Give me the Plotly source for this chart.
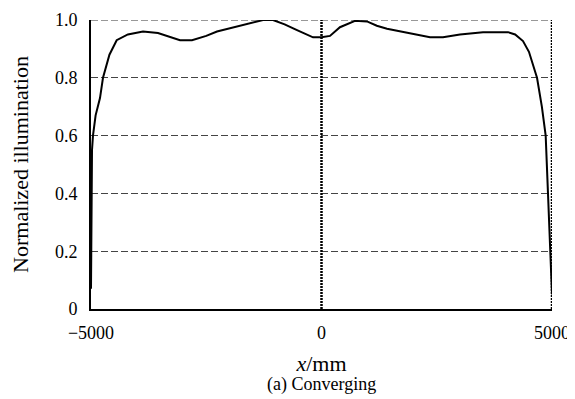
import plotly.graph_objects as go

x_mm = [-5000, -4990, -4978, -4957, -4900, -4805, -4740, -4600, -4443, -4200, -3872, -3547,
        -3200, -3069, -2809, -2500, -2267, -1920, -1551, -1269, -1052, -800, -531, -300,
        -184, 0, 184, 400, 727, 987, 1200, 1421, 1920, 2354, 2636, 3004, 3503, 4046, 4200,
        4371, 4500, 4675, 4780, 4863, 4913, 4957, 4993, 5000]
illum = [0.07, 0.35, 0.55, 0.6, 0.67, 0.73, 0.8, 0.88, 0.93, 0.95, 0.96, 0.955,
         0.935, 0.93, 0.93, 0.945, 0.96, 0.974, 0.99, 1.0, 1.0, 0.985, 0.965, 0.95,
         0.94, 0.94, 0.945, 0.975, 0.997, 0.995, 0.98, 0.97, 0.955, 0.94, 0.94, 0.95,
         0.958, 0.958, 0.95, 0.927, 0.89, 0.8, 0.7, 0.6, 0.4, 0.2, 0.08, 0.05]

x_ticks = [-5000, 0, 5000]
x_tick_labels = ["\u22125000", "0", "5000"]
y_ticks = [0, 0.2, 0.4, 0.6, 0.8, 1.0]
y_tick_labels = ["0", "0.2", "0.4", "0.6", "0.8", "1.0"]

font = dict(family="Liberation Serif, Times New Roman, serif", size=18, color="black")

fig = go.Figure()
fig.add_trace(go.Scatter(x=x_mm, y=illum, mode="lines",
                         line=dict(color="black", width=2), showlegend=False))

# dashed top grid line at 1.0
fig.add_shape(type="line", x0=-5000, x1=5000, y0=1, y1=1, xref="x", yref="y",
              line=dict(color="#333", width=1.2, dash="7px,3px"), layer="below")
# dotted vertical lines at x=0 and right border
for xv in [0, 5000]:
    fig.add_shape(type="line", x0=xv, x1=xv, y0=0, y1=1, xref="x", yref="y",
                  line=dict(color="black", width=2.5, dash="2px,1px"), layer="above")

# page body has an 8px default margin, so the figure is sized to fit the window
fig.update_layout(
    width=567, height=391,
    margin=dict(l=83, r=23, t=12, b=90),
    paper_bgcolor="white", plot_bgcolor="white",
    font=font,
    xaxis=dict(range=[-5000, 5000], tickvals=x_ticks, ticktext=x_tick_labels,
               showgrid=False, zeroline=False, showline=True, linecolor="black",
               linewidth=2, ticks="", automargin=False, ticklabelstandoff=6,
               ticklabeloverflow="allow",
               title=dict(text="<i>x</i>/mm", standoff=14)),
    yaxis=dict(range=[0, 1], tickvals=y_ticks, ticktext=y_tick_labels,
               showgrid=True, gridcolor="#444", griddash="7px,3px", gridwidth=1.2,
               zeroline=False, showline=True, linecolor="black", linewidth=2,
               ticks="", ticklabelstandoff=8, automargin=False,
               title=dict(text="Normalized illumination", standoff=26)),
    annotations=[dict(text="(a) Converging", x=0.5, xref="paper", y=0, yshift=-63,
                      yref="paper", yanchor="top", showarrow=False, font=font)],
)

fig.write_html("out.html")
